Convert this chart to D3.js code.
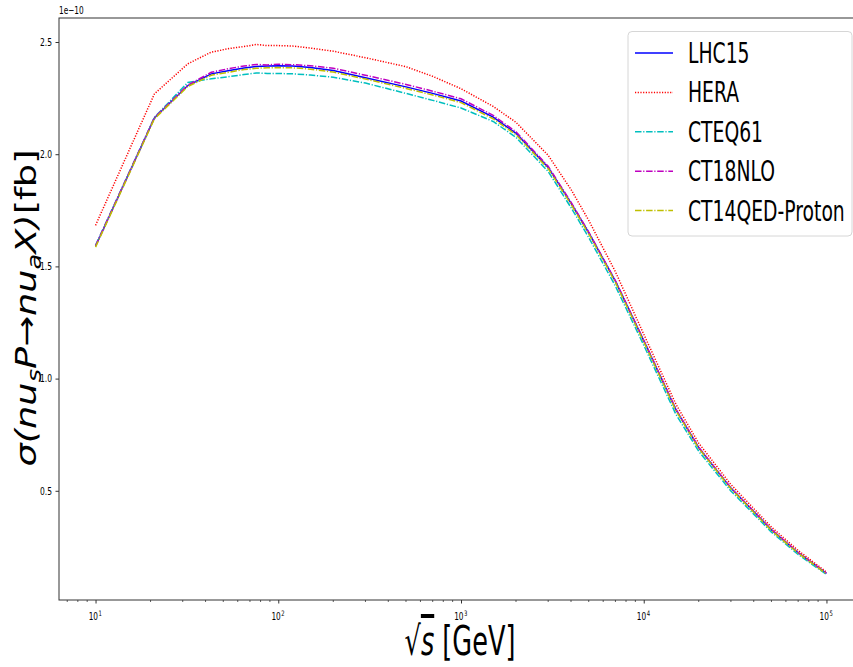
<!DOCTYPE html>
<html>
<head>
<meta charset="utf-8">
<script src="https://cdn.jsdelivr.net/npm/d3@7"></script>
<style>
  html, body { margin: 0; padding: 0; background: #fff; overflow: hidden; }
  text { font-family: "DejaVu Sans", sans-serif; fill: #000; }
</style>
</head>
<body>
<div id="chart"></div>
<script>
// sqrt(s) in GeV, cross sections in units of 1e-10 fb
const energies = [10, 21, 32, 43, 54, 65, 76, 87, 100, 120, 150, 200, 300, 500, 700, 1000,
    1500, 2000, 3000, 4000, 5000, 7000, 10000, 15000, 20000, 30000, 50000, 70000, 100000];

const lhc15 = [1.590, 2.162, 2.306, 2.358, 2.373, 2.384, 2.391, 2.393, 2.394, 2.393, 2.386, 2.373, 2.341, 2.300, 2.271, 2.237,
    2.165, 2.093, 1.941, 1.782, 1.650, 1.434, 1.169, 0.862, 0.692, 0.512, 0.326, 0.224, 0.132];
const hera = [1.683, 2.269, 2.403, 2.455, 2.471, 2.480, 2.489, 2.484, 2.484, 2.482, 2.473, 2.459, 2.430, 2.390, 2.347, 2.292,
    2.213, 2.142, 1.995, 1.843, 1.705, 1.476, 1.198, 0.886, 0.712, 0.528, 0.338, 0.234, 0.138];
const cteq61 = [1.594, 2.164, 2.320, 2.336, 2.346, 2.355, 2.362, 2.360, 2.360, 2.358, 2.353, 2.343, 2.317, 2.271, 2.240, 2.206,
    2.146, 2.075, 1.923, 1.762, 1.629, 1.412, 1.149, 0.841, 0.676, 0.499, 0.316, 0.216, 0.127];
const ct18nlo = [1.592, 2.163, 2.308, 2.365, 2.382, 2.393, 2.400, 2.398, 2.401, 2.399, 2.394, 2.383, 2.352, 2.311, 2.281, 2.247,
    2.173, 2.100, 1.946, 1.786, 1.653, 1.436, 1.171, 0.864, 0.694, 0.513, 0.327, 0.225, 0.133];
const ct14qed = [1.586, 2.158, 2.302, 2.352, 2.366, 2.377, 2.383, 2.385, 2.386, 2.385, 2.379, 2.366, 2.335, 2.293, 2.264, 2.230,
    2.158, 2.087, 1.936, 1.777, 1.645, 1.429, 1.164, 0.858, 0.689, 0.509, 0.323, 0.222, 0.130];

const seriesNames = ["LHC15", "HERA", "CTEQ61", "CT18NLO", "CT14QED-Proton"];
const seriesValues = [lhc15, hera, cteq61, ct18nlo, ct14qed];
const seriesColors = ["#0000ff", "#ff0000", "#00bfbf", "#bf00bf", "#bfbf00"];
const seriesDash = [null, "1.2,1.5", "6.5,1.7,1.2,1.7", "6.5,1.7,1.2,1.7", "6.5,1.7,1.2,1.7"];

const yTicks = [0.5, 1.0, 1.5, 2.0, 2.5];
const xTicks = [1e1, 1e2, 1e3, 1e4, 1e5];

const W = 853, H = 667;
const margin = { top: 18, right: -10, bottom: 67, left: 59 };
const width = W - margin.left - margin.right,
    height = H - margin.top - margin.bottom;

// the reference picture is squeezed horizontally, so are its texts
function squeeze(sel, f) {
    sel.each(function () {
        const w = this.getComputedTextLength();
        d3.select(this).attr("textLength", w * f).attr("lengthAdjust", "spacingAndGlyphs");
    });
}

const svg = d3.select("#chart").append("svg")
    .attr("width", W)
    .attr("height", H);

const chart = svg.append("g")
    .attr("transform", `translate(${margin.left},${margin.top})`);

const x = d3.scaleLog()
    .domain([Math.pow(10, 0.8), Math.pow(10, 5.2)])
    .range([0, width]);

const y = d3.scaleLinear()
    .domain([0.0133, 2.607])
    .range([height, 0]);

// curves
const line = d3.line()
    .x((d, i) => x(energies[i]))
    .y(d => y(d));

seriesValues.forEach((vals, k) => {
    chart.append("path")
        .datum(vals)
        .attr("fill", "none")
        .attr("stroke", seriesColors[k])
        .attr("stroke-width", 1.5)
        .attr("stroke-dasharray", seriesDash[k])
        .attr("d", line);
});

// minor x ticks
const minorTicks = [];
for (let e = 0; e <= 5; e++) {
    for (let m = 2; m <= 9; m++) {
        const v = m * Math.pow(10, e);
        if (v > x.domain()[0] && v < x.domain()[1]) minorTicks.push(v);
    }
}

const xAxis = chart.append("g")
    .attr("transform", `translate(0,${height})`)
    .call(d3.axisBottom(x).tickValues(xTicks).tickSize(3.5).tickFormat(() => ""));
xAxis.select(".domain").remove();
xAxis.selectAll(".tick line").attr("stroke", "#333");
xAxis.selectAll(".tick text").remove();

// x tick labels: 10 with a superscript exponent
const xLab = chart.append("g").selectAll("g")
    .data(xTicks)
    .enter()
    .append("g")
    .attr("transform", d => `translate(${x(d)},${height + 20})`);
xLab.append("text")
    .attr("x", 2.5)
    .attr("text-anchor", "end")
    .attr("font-size", 10.5)
    .text("10")
    .call(squeeze, 0.7);
xLab.append("text")
    .attr("x", 3)
    .attr("y", -4.5)
    .attr("font-size", 7.5)
    .text(d => Math.round(Math.log10(d)))
    .call(squeeze, 0.7);

chart.append("g")
    .selectAll("line")
    .data(minorTicks)
    .enter()
    .append("line")
    .attr("x1", d => x(d)).attr("x2", d => x(d))
    .attr("y1", height).attr("y2", height + 2)
    .attr("stroke", "#333")
    .attr("stroke-width", 0.8);

const yAxis = chart.append("g")
    .call(d3.axisLeft(y).tickValues(yTicks).tickSize(3.5).tickPadding(3.5).tickFormat(d3.format(".1f")));
yAxis.select(".domain").remove();
yAxis.selectAll(".tick line").attr("stroke", "#333");
yAxis.selectAll(".tick text").attr("font-size", 10.5).attr("font-family", "DejaVu Sans");
squeeze(yAxis.selectAll(".tick text"), 0.72);

// frame
chart.append("rect")
    .attr("x", 0).attr("y", 0)
    .attr("width", width).attr("height", height)
    .attr("fill", "none")
    .attr("stroke", "#333")
    .attr("stroke-width", 1);

// offset text
const off = svg.append("text")
    .attr("x", margin.left)
    .attr("y", 14)
    .attr("font-size", 10.5)
    .text("1e\u221210");
squeeze(off, 0.7);

// axis labels
const xl = svg.append("text")
    .attr("x", 460)
    .attr("y", 655)
    .attr("text-anchor", "middle")
    .attr("font-size", 40);
xl.append("tspan").text("\u221A");
xl.append("tspan").attr("font-style", "italic").attr("text-decoration", "overline").text("s");
xl.append("tspan").text(" [GeV]");
squeeze(xl, 0.64);

const yl = svg.append("text")
    .attr("transform", "translate(36,308) scale(0.72,1) rotate(-90)")
    .attr("text-anchor", "middle")
    .attr("font-size", 40);
yl.append("tspan").attr("font-style", "italic").text("\u03C3(nu");
yl.append("tspan").attr("font-style", "italic").attr("font-size", 28).attr("dy", 7).text("s");
yl.append("tspan").attr("font-style", "italic").attr("dy", -7).text("P\u2192nu");
yl.append("tspan").attr("font-style", "italic").attr("font-size", 28).attr("dy", 7).text("a");
yl.append("tspan").attr("font-style", "italic").attr("dy", -7).text("X)");
yl.append("tspan").text("[fb]");
yl.attr("textLength", 317).attr("lengthAdjust", "spacingAndGlyphs");

// legend
const legend = svg.append("g");
legend.append("rect")
    .attr("x", 628).attr("y", 31.5)
    .attr("width", 224).attr("height", 204.5)
    .attr("rx", 4)
    .attr("fill", "#fff")
    .attr("fill-opacity", 0.8)
    .attr("stroke", "#d6d6d6");

const legRows = legend.selectAll(".leg")
    .data(seriesNames)
    .enter()
    .append("g")
    .attr("class", "leg")
    .attr("transform", (d, i) => `translate(0,${53 + i * 39.4})`);

legRows.append("line")
    .attr("x1", 635).attr("x2", 673)
    .attr("y1", 0).attr("y2", 0)
    .attr("stroke", (d, i) => seriesColors[i])
    .attr("stroke-width", 1.5)
    .attr("stroke-dasharray", (d, i) => seriesDash[i]);

const legText = legRows.append("text")
    .attr("x", 688)
    .attr("y", 10)
    .attr("font-size", 28)
    .text(d => d);
squeeze(legText, 0.67);
</script>
</body>
</html>
